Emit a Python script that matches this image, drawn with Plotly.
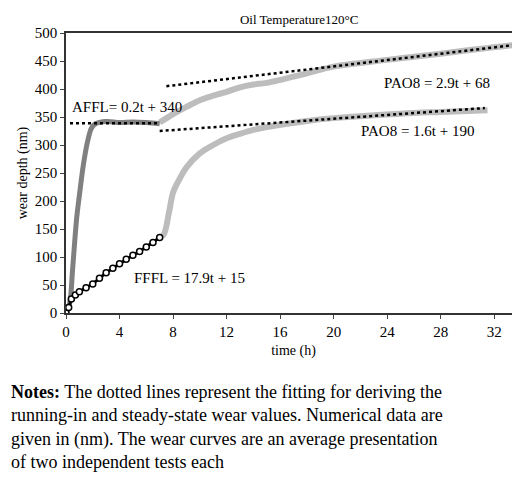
import plotly.graph_objects as go

# AFFL run-in (dark grey)
affl_t = [0, 0.15, 0.3, 0.5, 0.8, 1.0, 1.3, 1.6, 1.9, 2.2, 3, 4, 5, 6, 7]
affl_y = [0, 8, 20, 80, 170, 210, 265, 305, 330, 338, 342, 340, 341, 340, 338]

# FFFL (black with open circles)
fffl_t = [0, 0.2, 0.4, 0.7, 1, 1.5, 2, 2.5, 3, 3.5, 4, 4.5, 5, 5.5, 6, 6.5, 7]
fffl_y = [0, 10, 25, 32, 38, 45, 52, 62, 72, 80, 88, 96, 103, 110, 118, 126, 135]

# PAO8 upper curve (light grey)
pao_up_t = [7, 8, 9, 10, 11, 12, 13, 14, 15, 18, 20, 24, 28, 31, 34]
pao_up_y = [340, 355, 368, 380, 388, 395, 403, 408, 411, 428, 440, 452, 463, 472, 480]

# PAO8 lower curve (light grey)
pao_lo_t = [7, 7.3, 7.7, 8, 8.5, 9, 10, 11, 12, 13, 14, 15, 18, 20, 25, 28, 31.5]
pao_lo_y = [135, 140, 180, 215, 240, 260, 285, 300, 312, 320, 327, 332, 343, 348, 356, 359, 362]

# dotted fit lines (end points as drawn)
fit_affl_t, fit_affl_y = [0.3, 7], [339, 339]
fit_up_t, fit_up_y = [7.5, 34], [405, 480]
fit_lo_t, fit_lo_y = [7, 31.3], [325, 366]

serif = "Liberation Serif"
fig = go.Figure()
fig.add_trace(go.Scatter(x=pao_up_t, y=pao_up_y, mode="lines", line=dict(color="#bdbdbd", width=6, shape="spline")))
fig.add_trace(go.Scatter(x=pao_lo_t, y=pao_lo_y, mode="lines", line=dict(color="#bdbdbd", width=6, shape="spline")))
fig.add_trace(go.Scatter(x=affl_t, y=affl_y, mode="lines", line=dict(color="#808080", width=5, shape="spline")))
fig.add_trace(go.Scatter(x=fffl_t, y=fffl_y, mode="lines+markers", line=dict(color="black", width=3),
                         marker=dict(symbol="circle", color="white", size=6, line=dict(width=1.5, color="black"))))
for ft, fy in [(fit_affl_t, fit_affl_y), (fit_up_t, fit_up_y), (fit_lo_t, fit_lo_y)]:
    fig.add_trace(go.Scatter(x=ft, y=fy, mode="lines", line=dict(color="black", width=2.5, dash="dot")))

lab = dict(size=15, family=serif, color="black")
fig.add_annotation(x=0.3, y=368, text="AFFL= 0.2t + 340", showarrow=False, xanchor="left", font=lab)
fig.add_annotation(x=4.9, y=62, text="FFFL = 17.9t + 15", showarrow=False, xanchor="left", font=lab)
fig.add_annotation(x=31.8, y=410, text="PAO8 = 2.9t + 68", showarrow=False, xanchor="right", font=lab)
fig.add_annotation(x=30.6, y=325, text="PAO8 = 1.6t + 190", showarrow=False, xanchor="right", font=lab)

notes = ("<b>Notes:</b> The dotted lines represent the fitting for deriving the<br>"
         "running-in and steady-state wear values. Numerical data are<br>"
         "given in (nm). The wear curves are an average presentation<br>"
         "of two independent tests each")
fig.add_annotation(xref="paper", yref="paper", x=-0.125, y=-0.24, xanchor="left", yanchor="top",
                   text=notes, showarrow=False, align="left",
                   font=dict(size=18, color="black", family=serif))

axis_font = dict(family=serif, size=15, color="black")
fig.update_xaxes(range=[0, 34], tickvals=list(range(0, 33, 4)), ticks="outside", ticklen=4,
                 tickfont=axis_font, showline=True, linecolor="#333", linewidth=1.5, mirror=True,
                 showgrid=False, zeroline=False,
                 title=dict(text="time (h)", standoff=6, font=dict(family=serif, size=14)))
fig.update_yaxes(range=[0, 500], dtick=50, ticks="outside", ticklen=4,
                 tickfont=axis_font, showline=True, linecolor="#333", linewidth=1.5, mirror=True,
                 showgrid=False, zeroline=False,
                 title=dict(text="wear depth (nm)", standoff=4, font=dict(family=serif, size=14)))
fig.update_layout(
    width=520, height=480, showlegend=False,
    margin=dict(l=58, r=5, t=25, b=175),
    font=dict(family=serif, size=14, color="black"),
    title=dict(text="Oil Temperature120°C", x=0.56, y=0.985, font=dict(size=13, family=serif)),
    paper_bgcolor="white", plot_bgcolor="white",
)
fig.write_html("out.html")
